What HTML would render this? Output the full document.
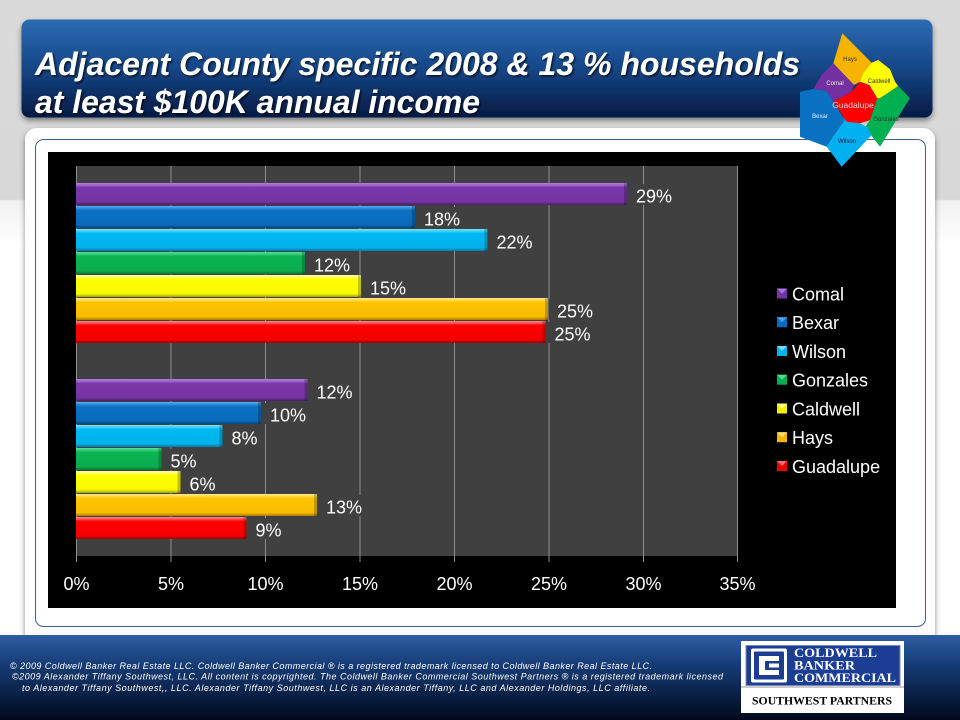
<!DOCTYPE html>
<html><head><meta charset="utf-8"><style>
html,body{margin:0;padding:0;width:960px;height:720px;overflow:hidden;background:#fff}
svg{display:block}
</style></head><body>
<svg width="960" height="720" viewBox="0 0 960 720" xmlns="http://www.w3.org/2000/svg" font-family="'Liberation Sans', Arial, sans-serif">
<defs>
<linearGradient id="bg" x1="0" y1="0" x2="0" y2="1">
<stop offset="0" stop-color="#dadada"/><stop offset="0.277" stop-color="#d8d8d8"/><stop offset="0.279" stop-color="#f2f2f2"/><stop offset="0.34" stop-color="#ffffff"/><stop offset="1" stop-color="#ffffff"/>
</linearGradient>
<linearGradient id="tb" x1="0" y1="0" x2="0" y2="1">
<stop offset="0" stop-color="#2d6cb2"/><stop offset="0.45" stop-color="#174a8c"/><stop offset="1" stop-color="#041a44"/>
</linearGradient>
<linearGradient id="ft" x1="0" y1="0" x2="0" y2="1">
<stop offset="0" stop-color="#2c5ea3"/><stop offset="0.35" stop-color="#163c76"/><stop offset="1" stop-color="#01081c"/>
</linearGradient>
<linearGradient id="gP" x1="0" y1="0" x2="0" y2="1"><stop offset="0" stop-color="#b07ee0"/><stop offset="0.12" stop-color="#9a5ccc"/><stop offset="0.2" stop-color="#7b37aa"/><stop offset="0.85" stop-color="#7434a2"/><stop offset="1" stop-color="#4a1f6c"/></linearGradient>
<linearGradient id="gB" x1="0" y1="0" x2="0" y2="1"><stop offset="0" stop-color="#5aaaf0"/><stop offset="0.12" stop-color="#2b8ad8"/><stop offset="0.2" stop-color="#0b70c4"/><stop offset="0.85" stop-color="#096abb"/><stop offset="1" stop-color="#054482"/></linearGradient>
<linearGradient id="gW" x1="0" y1="0" x2="0" y2="1"><stop offset="0" stop-color="#7ae2ff"/><stop offset="0.12" stop-color="#30cdfb"/><stop offset="0.2" stop-color="#00b9f2"/><stop offset="0.85" stop-color="#00b2ea"/><stop offset="1" stop-color="#007aa6"/></linearGradient>
<linearGradient id="gG" x1="0" y1="0" x2="0" y2="1"><stop offset="0" stop-color="#5ee09a"/><stop offset="0.12" stop-color="#2ac772"/><stop offset="0.2" stop-color="#0cb452"/><stop offset="0.85" stop-color="#0aad4e"/><stop offset="1" stop-color="#067636"/></linearGradient>
<linearGradient id="gC" x1="0" y1="0" x2="0" y2="1"><stop offset="0" stop-color="#ffffa8"/><stop offset="0.12" stop-color="#ffff50"/><stop offset="0.2" stop-color="#ffff00"/><stop offset="0.85" stop-color="#f8f800"/><stop offset="1" stop-color="#a8a000"/></linearGradient>
<linearGradient id="gH" x1="0" y1="0" x2="0" y2="1"><stop offset="0" stop-color="#ffe890"/><stop offset="0.12" stop-color="#ffd640"/><stop offset="0.2" stop-color="#ffc400"/><stop offset="0.85" stop-color="#f8bc00"/><stop offset="1" stop-color="#a87c00"/></linearGradient>
<linearGradient id="gR" x1="0" y1="0" x2="0" y2="1"><stop offset="0" stop-color="#ff8a8a"/><stop offset="0.12" stop-color="#ff4040"/><stop offset="0.2" stop-color="#ff0000"/><stop offset="0.85" stop-color="#f40000"/><stop offset="1" stop-color="#9a0000"/></linearGradient>
<filter id="sh" x="-5%" y="-5%" width="110%" height="130%"><feDropShadow dx="0" dy="3" stdDeviation="3" flood-color="#000" flood-opacity="0.45"/></filter>
<filter id="ts" x="-5%" y="-20%" width="110%" height="140%"><feDropShadow dx="1.5" dy="1.5" stdDeviation="1" flood-color="#000" flood-opacity="0.7"/></filter>
</defs>

<!-- background -->
<rect x="0" y="0" width="960" height="720" fill="url(#bg)"/>

<!-- white panel -->
<rect x="25" y="128" width="910" height="520" rx="12" fill="#ffffff" filter="url(#sh)"/>

<!-- title box -->
<rect x="21.5" y="19.5" width="911" height="98" rx="8" fill="url(#tb)" filter="url(#sh)"/>
<g fill="#ffffff" font-weight="bold" font-style="italic" font-size="32" filter="url(#ts)">
<text x="35" y="75" textLength="765" lengthAdjust="spacingAndGlyphs">Adjacent County specific 2008 &amp; 13 % households</text>
<text x="35" y="113" textLength="445" lengthAdjust="spacingAndGlyphs">at least $100K annual income</text>
</g>

<!-- inner bordered box -->
<rect x="35.5" y="139.5" width="890" height="487" rx="8" fill="#ffffff" stroke="#3f6090" stroke-width="1"/>

<!-- chart black area -->
<rect x="48" y="152" width="848" height="456" fill="#000000"/>

<!-- plot area -->
<rect x="76" y="166" width="662" height="390" fill="#404040"/>
<g stroke="#8e8e8e" stroke-width="1">
<line x1="76.5" y1="166" x2="76.5" y2="562"/>
<line x1="171" y1="166" x2="171" y2="562"/>
<line x1="265.5" y1="166" x2="265.5" y2="562"/>
<line x1="360" y1="166" x2="360" y2="562"/>
<line x1="454.5" y1="166" x2="454.5" y2="562"/>
<line x1="549" y1="166" x2="549" y2="562"/>
<line x1="643.5" y1="166" x2="643.5" y2="562"/>
<line x1="737.5" y1="166" x2="737.5" y2="562"/>
</g>

<!-- bars top group -->
<g>
<rect x="76" y="183" width="551" height="22" fill="url(#gP)"/>
<rect x="76" y="206" width="339" height="22" fill="url(#gB)"/>
<rect x="76" y="229" width="411.5" height="22" fill="url(#gW)"/>
<rect x="76" y="252" width="229" height="22" fill="url(#gG)"/>
<rect x="76" y="275" width="285" height="22" fill="url(#gC)"/>
<rect x="76" y="298" width="472" height="22" fill="url(#gH)"/>
<rect x="76" y="321" width="469.5" height="22" fill="url(#gR)"/>
</g>
<!-- bars bottom group -->
<g>
<rect x="76" y="379" width="231.5" height="22" fill="url(#gP)"/>
<rect x="76" y="402" width="185" height="22" fill="url(#gB)"/>
<rect x="76" y="425" width="146.5" height="22" fill="url(#gW)"/>
<rect x="76" y="448" width="85.5" height="22" fill="url(#gG)"/>
<rect x="76" y="471" width="104.5" height="22" fill="url(#gC)"/>
<rect x="76" y="494" width="241" height="22" fill="url(#gH)"/>
<rect x="76" y="517" width="170.5" height="22" fill="url(#gR)"/>
</g>
<!-- bar end bevels -->
<g fill="#000" opacity="0.22">
<rect x="624" y="183" width="3" height="22"/><rect x="412" y="206" width="3" height="22"/><rect x="484.5" y="229" width="3" height="22"/><rect x="302" y="252" width="3" height="22"/><rect x="358" y="275" width="3" height="22"/><rect x="545" y="298" width="3" height="22"/><rect x="542.5" y="321" width="3" height="22"/>
<rect x="304.5" y="379" width="3" height="22"/><rect x="258" y="402" width="3" height="22"/><rect x="219.5" y="425" width="3" height="22"/><rect x="158.5" y="448" width="3" height="22"/><rect x="177.5" y="471" width="3" height="22"/><rect x="314" y="494" width="3" height="22"/><rect x="243.5" y="517" width="3" height="22"/>
</g>

<!-- data labels -->
<g fill="#404040">
<rect x="628" y="184" width="48" height="21"/><rect x="416" y="207" width="48" height="21"/><rect x="488" y="230" width="48" height="21"/><rect x="306" y="253" width="48" height="21"/><rect x="362" y="276" width="48" height="21"/><rect x="549" y="299" width="48" height="21"/><rect x="546" y="322" width="48" height="21"/>
<rect x="308" y="380" width="48" height="21"/><rect x="262" y="403" width="48" height="21"/><rect x="223" y="426" width="36" height="21"/><rect x="162" y="449" width="36" height="21"/><rect x="181" y="472" width="36" height="21"/><rect x="318" y="495" width="48" height="21"/><rect x="247" y="518" width="36" height="21"/>
</g>
<g fill="#ffffff" font-size="18">
<text x="636" y="202.5">29%</text>
<text x="424" y="225.5">18%</text>
<text x="496.5" y="248.5">22%</text>
<text x="314" y="271.5">12%</text>
<text x="370" y="294.5">15%</text>
<text x="557" y="317.5">25%</text>
<text x="554.5" y="340.5">25%</text>
<text x="316.5" y="398.5">12%</text>
<text x="270" y="421.5">10%</text>
<text x="231.5" y="444.5">8%</text>
<text x="170.5" y="467.5">5%</text>
<text x="189.5" y="490.5">6%</text>
<text x="326" y="513.5">13%</text>
<text x="255.5" y="536.5">9%</text>
</g>

<!-- x axis labels -->
<g fill="#ffffff" font-size="18" text-anchor="middle">
<text x="76.5" y="590">0%</text>
<text x="171" y="590">5%</text>
<text x="265.5" y="590">10%</text>
<text x="360" y="590">15%</text>
<text x="454.5" y="590">20%</text>
<text x="549" y="590">25%</text>
<text x="643.5" y="590">30%</text>
<text x="737.5" y="590">35%</text>
</g>

<!-- legend -->
<g>
<rect x="777" y="288.5" width="10" height="10" fill="#7434a2"/><path d="M777 288.5h10l-5 5z" fill="#a878d8"/>
<rect x="777" y="317.2" width="10" height="10" fill="#096abb"/><path d="M777 317.2h10l-5 5z" fill="#4ea0e8"/>
<rect x="777" y="346" width="10" height="10" fill="#00b2ea"/><path d="M777 346h10l-5 5z" fill="#70dcff"/>
<rect x="777" y="374.7" width="10" height="10" fill="#0aad4e"/><path d="M777 374.7h10l-5 5z" fill="#56d890"/>
<rect x="777" y="403.5" width="10" height="10" fill="#f0f000"/><path d="M777 403.5h10l-5 5z" fill="#ffff90"/>
<rect x="777" y="432.2" width="10" height="10" fill="#f0b800"/><path d="M777 432.2h10l-5 5z" fill="#ffe070"/>
<rect x="777" y="461" width="10" height="10" fill="#e80000"/><path d="M777 461h10l-5 5z" fill="#ff7070"/>
</g>
<g fill="#ffffff" font-size="18">
<text x="792" y="300.5">Comal</text>
<text x="792" y="329.2">Bexar</text>
<text x="792" y="358">Wilson</text>
<text x="792" y="386.7">Gonzales</text>
<text x="792" y="415.5">Caldwell</text>
<text x="792" y="444.2">Hays</text>
<text x="792" y="473">Guadalupe</text>
</g>

<!-- county map logo -->
<g stroke="none">
<polygon points="842.3,33.3 871.7,62.7 863.3,75 860,81.7 854,85 833.3,63.3 838.3,46.7" fill="#f6b300"/>
<polygon points="833.3,63.3 854,85 851.7,91.7 833.3,101.7 826.7,91 813.3,89 821.7,75" fill="#7230a0"/>
<polygon points="863.3,73.3 871.7,62.7 878.3,60 890,69.3 895,81.7 898.3,86 880,98.3 877.3,98.3 869.3,85 860,81.7" fill="#ffff00"/>
<polygon points="880,98.3 898.3,86 910,98.3 906.7,103.3 880,146.7 865,127.3 870,120 877.3,98.3" fill="#00b050"/>
<polygon points="800,91.7 813.3,89 826.7,91 833.3,101.7 845,120 830,141.7 826.7,146.7 800,136.7" fill="#0a70c2"/>
<polygon points="845,120 860,123.3 867.3,127.3 871.7,135 841.7,166.7 826.7,146.7 830,141.7" fill="#00b0f0"/>
<polygon points="860,81.7 869.3,85 877.3,98.3 870,120 860,123.3 846.7,121.7 833.3,101.7 851.7,91.7" fill="#ff0000"/>
</g>
<g font-size="6" text-anchor="middle">
<text x="850" y="61" fill="#333">Hays</text>
<text x="835" y="85" fill="#eee">Comal</text>
<text x="879" y="83" fill="#333">Caldwell</text>
<text x="853" y="108" fill="#ffd0d0" font-size="8.5">Guadalupe</text>
<text x="820" y="118" fill="#eee">Bexar</text>
<text x="886" y="121" fill="#333">Gonzales</text>
<text x="847" y="143" fill="#114">Wilson</text>
</g>

<!-- footer -->
<rect x="0" y="635" width="960" height="85" fill="url(#ft)"/>
<g fill="#ffffff" font-size="9" font-style="italic">
<text x="10" y="669" textLength="642" lengthAdjust="spacing">©  2009 Coldwell Banker Real Estate  LLC. Coldwell Banker Commercial ® is a registered trademark licensed to Coldwell Banker Real Estate LLC.</text>
<text x="12" y="679.5" textLength="711" lengthAdjust="spacing">©2009  Alexander Tiffany Southwest, LLC. All content is copyrighted. The Coldwell Banker Commercial Southwest Partners ® is a registered trademark licensed</text>
<text x="22" y="691" textLength="628" lengthAdjust="spacing">to Alexander Tiffany Southwest,, LLC.  Alexander Tiffany Southwest, LLC is an Alexander Tiffany, LLC and Alexander Holdings, LLC affiliate.</text>
</g>

<!-- footer logo -->
<rect x="741" y="641" width="163" height="72" fill="#ffffff"/>
<rect x="746" y="645.5" width="154" height="40" fill="#1b3e94" stroke="#7a88b8" stroke-width="1"/>
<line x1="741" y1="687" x2="904" y2="687" stroke="#9a9a9a" stroke-width="1"/>
<rect x="751" y="648.5" width="36" height="34" rx="2" fill="#ffffff"/>
<rect x="754" y="651.5" width="30" height="28" rx="1" fill="#1b3e94"/>
<rect x="759" y="656" width="6" height="19" fill="#ffffff"/>
<rect x="759" y="656" width="20" height="5" fill="#ffffff"/>
<rect x="759" y="670" width="20" height="5" fill="#ffffff"/>
<rect x="769" y="663.5" width="10" height="4" fill="#ffffff"/>
<g fill="#ffffff" font-family="'Liberation Serif', 'Times New Roman', serif" font-weight="bold" font-size="12.5">
<text x="794" y="657" textLength="83" lengthAdjust="spacingAndGlyphs">COLDWELL</text>
<text x="794" y="669.5" textLength="61" lengthAdjust="spacingAndGlyphs">BANKER</text>
<text x="794" y="682" textLength="102" lengthAdjust="spacingAndGlyphs">COMMERCIAL</text>
</g>
<text x="752" y="704.5" textLength="140" lengthAdjust="spacingAndGlyphs" fill="#000" font-family="'Liberation Serif', 'Times New Roman', serif" font-weight="bold" font-size="12">SOUTHWEST PARTNERS</text>
</svg>
</body></html>
